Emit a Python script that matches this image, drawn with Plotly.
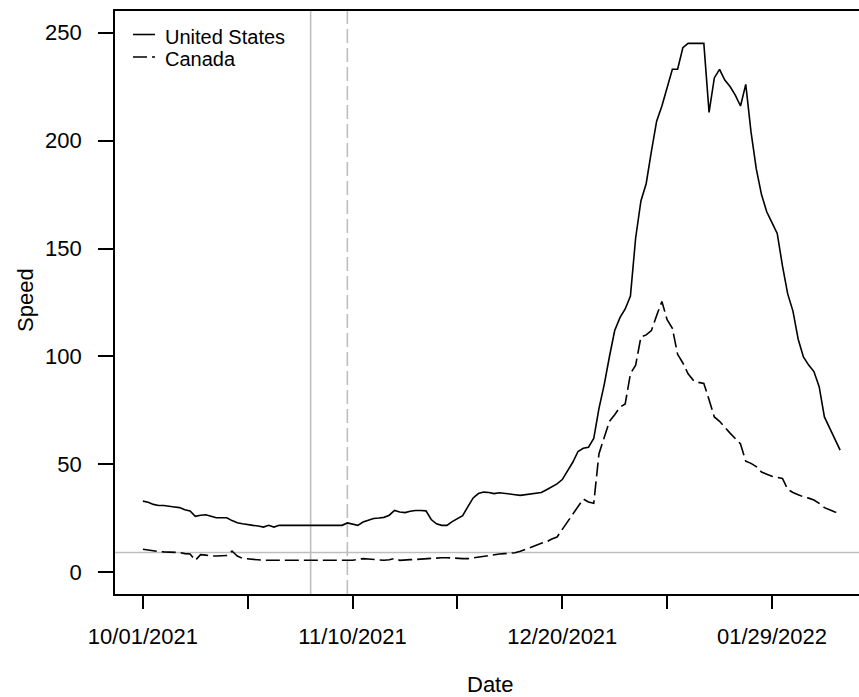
import pandas as pd
import plotly.graph_objects as go

# Daily series starting 2021-10-01
start_date = "2021-10-01"

us_speed = [
    33.0, 32.5, 31.5, 31.0, 31.0, 30.5, 30.3, 30.0, 29.0, 28.5,
    26.0, 26.5, 26.7, 26.0, 25.3, 25.3, 25.3, 24.0, 23.0, 22.5,
    22.0, 21.8, 21.5, 21.0, 21.8, 21.0, 21.8, 21.8, 21.8, 21.8,
    21.8, 21.8, 21.8, 21.8, 21.8, 21.8, 21.8, 21.8, 21.8, 22.9,
    22.5, 21.8, 23.3, 24.0, 25.0, 25.2, 25.5, 26.5, 28.7, 28.0,
    27.7, 28.3, 28.7, 28.7, 28.5, 24.5, 22.5, 21.8, 21.8, 23.5,
    25.0, 26.3, 30.5, 34.5, 36.5, 37.2, 37.0, 36.5, 36.9, 36.5,
    36.2, 36.0, 35.7, 36.0, 36.3, 36.5, 37.0, 38.3, 39.5, 41.0,
    43.0, 47.0, 51.0, 56.0, 57.5, 58.0, 62.0, 76.0, 87.0, 100.0,
    112.0, 118.0, 122.0, 128.0, 155.0, 172.0, 180.0, 195.0, 209.0, 216.0,
    224.0, 233.0, 233.0, 243.0, 245.0, 245.0, 245.0, 245.0, 213.0, 229.0,
    233.0, 228.0, 225.0, 221.0, 216.0, 226.0, 204.0, 187.0, 175.0, 167.0,
    162.0, 157.0, 142.0, 129.0, 121.0, 108.0, 99.8, 96.0, 93.0, 86.0,
    72.0, 67.0, 62.0, 56.6,
]

canada_speed = [
    10.7, 10.3, 9.9, 9.7, 9.5, 9.4, 9.4, 9.2, 8.7, 8.5,
    5.6, 8.2, 8.0, 7.6, 7.6, 7.6, 7.8, 9.9, 7.6, 6.5,
    6.2, 5.9, 5.6, 5.6, 5.6, 5.6, 5.6, 5.6, 5.6, 5.6,
    5.6, 5.6, 5.6, 5.6, 5.6, 5.6, 5.6, 5.6, 5.6, 5.6,
    5.6, 6.0, 6.4, 6.2, 5.9, 5.8, 5.6, 5.9, 6.4, 5.6,
    5.6, 5.9, 6.0, 6.2, 6.4, 6.4, 6.6, 6.8, 6.8, 6.6,
    6.4, 6.4, 6.4, 6.8, 7.1, 7.4, 7.8, 8.2, 8.5, 8.7,
    9.0, 9.1, 9.8, 10.8, 11.7, 12.5, 13.5, 14.1, 15.5, 16.4,
    20.0, 23.4, 27.0, 30.3, 34.0, 32.6, 32.0, 55.0, 62.0, 70.0,
    73.0, 76.5, 78.0, 92.0, 96.0, 109.0, 110.0, 112.0, 119.0, 125.5,
    117.0, 113.0, 101.0, 97.0, 92.0, 89.0, 88.0, 87.5, 80.0, 72.0,
    70.0, 67.0, 64.5, 62.0, 59.5, 51.5, 50.5, 49.0, 46.5, 45.5,
    44.5, 44.0, 43.5, 38.5, 37.0, 36.0, 35.0, 34.4, 33.5, 32.0,
    30.0, 29.0, 28.0, 27.5,
]

dates = pd.date_range(start_date, periods=len(us_speed), freq="D")

# Reference lines
hline_value = 9.2
vline_solid_date = "2021-11-02"
vline_dashed_date = "2021-11-09"

# Axis ticks
y_ticks = [0, 50, 100, 150, 200, 250]
x_tick_dates = ["2021-10-01", "2021-10-21", "2021-11-10", "2021-11-30",
                "2021-12-20", "2022-01-09", "2022-01-29"]
x_tick_labels = ["10/01/2021", "", "11/10/2021", "", "12/20/2021", "", "01/29/2022"]

series_names = ["United States", "Canada"]

W, H = 859, 697
L, R, T, B = 115, 0, 11, 103
pw, ph = W - L - R, H - T - B

FONT = "Liberation Sans, Arial, sans-serif"
BLACK = "#000000"
GRAY = "#BEBEBE"
DASH = "14px,5px"

t0 = pd.Timestamp(start_date)
x_range = [t0 - pd.Timedelta(days=5.32), t0 + pd.Timedelta(days=136.6)]

fig = go.Figure()

fig.add_trace(go.Scatter(
    x=dates, y=us_speed, mode="lines", name=series_names[0],
    line=dict(color=BLACK, width=1.6), showlegend=False,
))
fig.add_trace(go.Scatter(
    x=dates, y=canada_speed, mode="lines", name=series_names[1],
    line=dict(color=BLACK, width=1.6, dash=DASH), showlegend=False,
))

# Gray guide lines
fig.add_hline(y=hline_value, line=dict(color=GRAY, width=1.6), layer="below")
fig.add_vline(x=vline_solid_date, line=dict(color=GRAY, width=1.6), layer="below")
fig.add_vline(x=vline_dashed_date, line=dict(color=GRAY, width=1.6, dash=DASH),
              layer="below")


def px_x(p):
    return (p - L) / pw


def px_y(p):
    return (H - B - p) / ph


# Legend drawn in the top-left corner of the plotting box
legend_rows = [(series_names[0], "solid", 34.5, 36.5), (series_names[1], DASH, 57, 59)]
for name, dash, ly, ty in legend_rows:
    fig.add_shape(type="line", xref="paper", yref="paper",
                  x0=px_x(133), x1=px_x(155), y0=px_y(ly), y1=px_y(ly),
                  line=dict(color=BLACK, width=1.6, dash=dash))
    fig.add_annotation(xref="paper", yref="paper", x=px_x(164), y=px_y(ty),
                       text=name, showarrow=False, xanchor="left", yanchor="middle",
                       borderpad=0,
                       font=dict(family=FONT, size=20, color=BLACK))

# Axis titles
fig.add_annotation(xref="paper", yref="paper", x=px_x(490), y=px_y(684),
                   text="Date", showarrow=False, xanchor="center", yanchor="middle",
                   borderpad=0,
                   font=dict(family=FONT, size=22, color=BLACK))
fig.add_annotation(xref="paper", yref="paper", x=px_x(25), y=px_y(300),
                   text="Speed", showarrow=False, textangle=-90,
                   xanchor="center", yanchor="middle",
                   font=dict(family=FONT, size=22, color=BLACK))

fig.update_layout(
    width=W, height=H,
    margin=dict(l=L, r=R, t=T, b=B, pad=0),
    paper_bgcolor="white", plot_bgcolor="white",
    font=dict(family=FONT, size=22, color=BLACK),
    showlegend=False,
    xaxis=dict(
        type="date", range=x_range, showgrid=False, zeroline=False,
        showline=True, mirror=True, linecolor=BLACK, linewidth=1.6,
        ticks="outside", ticklen=13, tickwidth=1.6, tickcolor=BLACK,
        tickvals=x_tick_dates, ticktext=x_tick_labels,
        tickfont=dict(family=FONT, size=22, color=BLACK),
        ticklabelstandoff=9,
    ),
    yaxis=dict(
        range=[-10, 260], showgrid=False, zeroline=False,
        showline=True, mirror=False, linecolor=BLACK, linewidth=1.6,
        ticks="outside", ticklen=15, tickwidth=1.6, tickcolor=BLACK,
        tickvals=y_ticks, ticktext=[str(v) for v in y_ticks],
        tickfont=dict(family=FONT, size=22, color=BLACK),
        ticklabelstandoff=12,
    ),
)

fig.write_html("out.html")
